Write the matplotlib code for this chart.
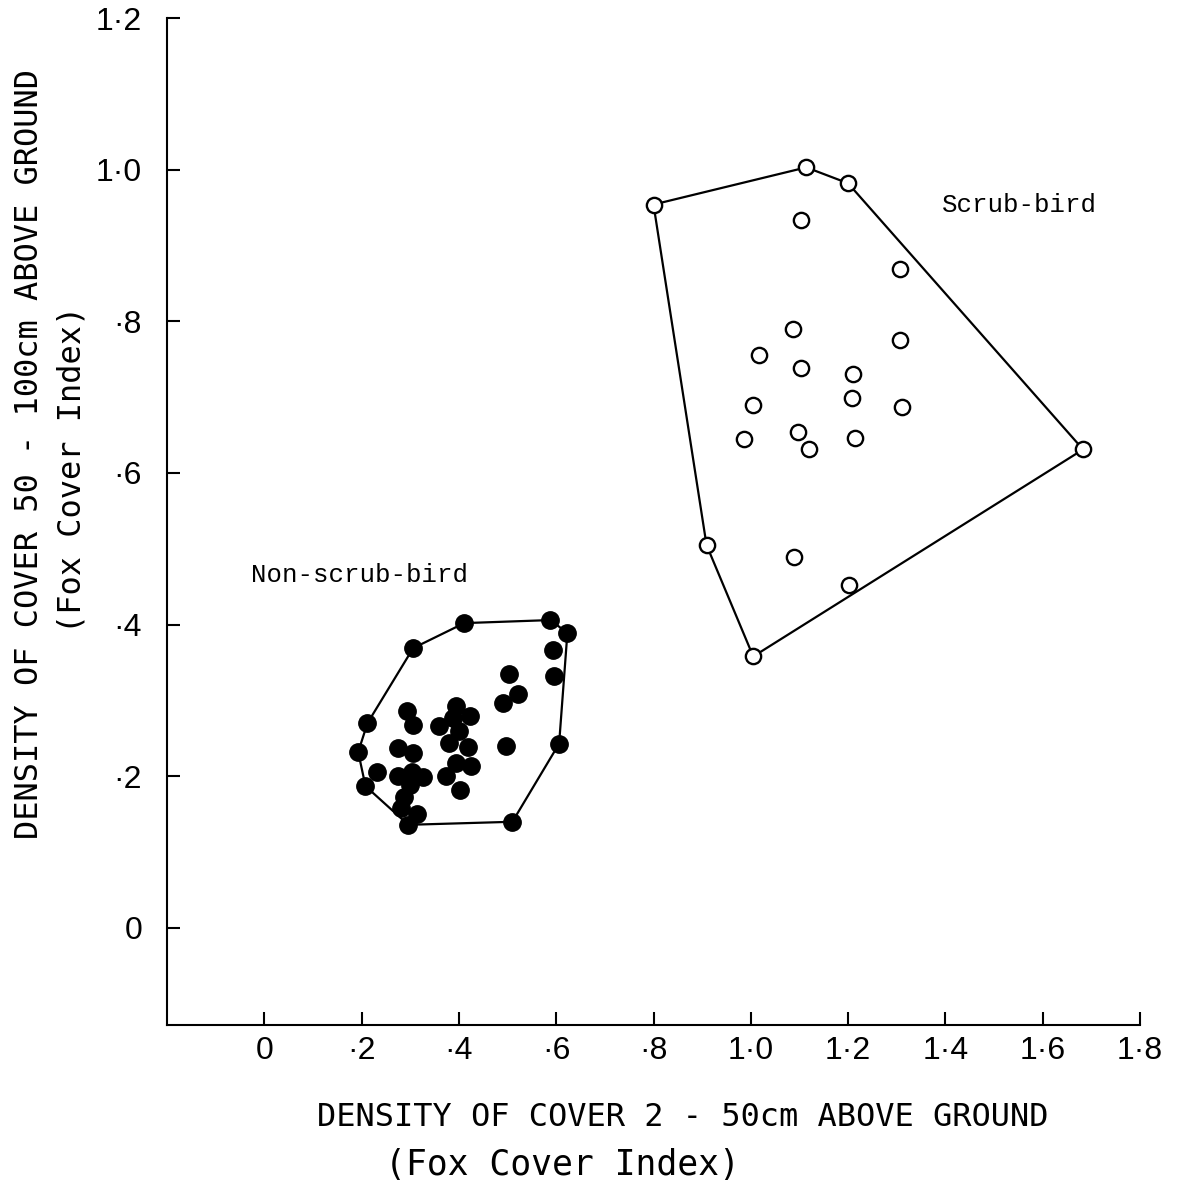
import numpy as np
import matplotlib.pyplot as plt

# ---------------- data ----------------
# Scrub-bird sites: convex hull vertices (in drawing order) and interior sites
scrub_hull_x = [0.800, 1.114, 1.200, 1.683, 1.005, 0.909]
scrub_hull_y = [0.954, 1.003, 0.982, 0.631, 0.358, 0.505]
scrub_x = [1.104, 1.307, 1.087, 1.307, 1.017, 1.104, 1.211, 1.209,
           1.005, 1.311, 0.985, 1.098, 1.120, 1.215, 1.089, 1.202]
scrub_y = [0.933, 0.869, 0.790, 0.776, 0.756, 0.739, 0.731, 0.699,
           0.690, 0.687, 0.645, 0.654, 0.632, 0.646, 0.489, 0.452]

# Non-scrub-bird sites
non_hull_x = [0.306, 0.411, 0.588, 0.623, 0.606, 0.510, 0.296, 0.208, 0.193, 0.212]
non_hull_y = [0.369, 0.402, 0.406, 0.389, 0.243, 0.140, 0.136, 0.187, 0.232, 0.270]
non_x = [0.294, 0.306, 0.275, 0.306, 0.232, 0.275, 0.304, 0.327, 0.300, 0.288,
         0.280, 0.314,
         0.395, 0.423, 0.388, 0.360, 0.401, 0.380, 0.419, 0.395, 0.425, 0.374,
         0.403,
         0.594, 0.596, 0.502, 0.522, 0.491, 0.497]
non_y = [0.286, 0.268, 0.237, 0.231, 0.206, 0.201, 0.206, 0.199, 0.189, 0.173,
         0.158, 0.150,
         0.293, 0.280, 0.277, 0.266, 0.260, 0.244, 0.239, 0.218, 0.214, 0.201,
         0.182,
         0.367, 0.332, 0.335, 0.309, 0.297, 0.240]

xticks = [0, 0.2, 0.4, 0.6, 0.8, 1.0, 1.2, 1.4, 1.6, 1.8]
xticklabels = ['0', '\u00b72', '\u00b74', '\u00b76', '\u00b78',
               '1\u00b70', '1\u00b72', '1\u00b74', '1\u00b76', '1\u00b78']
yticks = [0, 0.2, 0.4, 0.6, 0.8, 1.0, 1.2]
yticklabels = ['0', '\u00b72', '\u00b74', '\u00b76', '\u00b78', '1\u00b70', '1\u00b72']

# ---------------- figure ----------------
W, H = 1186, 1188
fig = plt.figure(figsize=(W / 100, H / 100), dpi=100)
ax = fig.add_axes([167 / W, 1 - 1025 / H, (1140 - 167) / W, (1025 - 18) / H])

# hull polygons
hx = scrub_hull_x + scrub_hull_x[:1]
hy = scrub_hull_y + scrub_hull_y[:1]
ax.plot(hx, hy, color='black', lw=1.6, zorder=2)
hx = non_hull_x + non_hull_x[:1]
hy = non_hull_y + non_hull_y[:1]
ax.plot(hx, hy, color='black', lw=1.6, zorder=2)

# points
ax.plot(scrub_hull_x + scrub_x, scrub_hull_y + scrub_y, 'o', ms=11,
        mfc='white', mec='black', mew=1.7, zorder=3)
ax.plot(non_hull_x + non_x, non_hull_y + non_y, 'o', ms=12.5,
        mfc='black', mec='black', zorder=3)

ax.text(-0.027, 0.466, 'Non-scrub-bird', family='Liberation Mono', fontsize=18.5,
        ha='left', va='center')
ax.text(1.392, 0.954, 'Scrub-bird', family='Liberation Mono', fontsize=18.5,
        ha='left', va='center')

ax.set_xlim(-0.2, 1.8)
ax.set_ylim(-0.128, 1.2)
ax.spines['top'].set_visible(False)
ax.spines['right'].set_visible(False)
for s in ['left', 'bottom']:
    ax.spines[s].set_linewidth(1.5)
ax.set_xticks(xticks)
ax.set_xticklabels(xticklabels, family='Liberation Sans', fontsize=23)
ax.set_yticks(yticks)
ax.set_yticklabels(yticklabels, family='Liberation Sans', fontsize=23)
ax.tick_params(axis='both', direction='in', length=9.5, width=1.5)
ax.tick_params(axis='x', pad=8)
ax.tick_params(axis='y', pad=18)

# axis titles
lab = dict(family='DejaVu Sans Mono', fontsize=23, ha='center', va='center')
fig.text(683 / W, 1 - 1118 / H, 'DENSITY OF COVER 2 - 50cm ABOVE GROUND', **lab)
fig.text(562 / W, 1 - 1165 / H, '(Fox Cover Index)',
         family='DejaVu Sans Mono', fontsize=25, ha='center', va='center')
fig.text(30 / W, 1 - 454 / H, 'DENSITY OF COVER 50 - 100cm ABOVE GROUND',
         rotation=90, **lab)
fig.text(72 / W, 1 - 469 / H, '(Fox Cover Index)', rotation=90, **lab)

fig.savefig('out.png', dpi=100)
